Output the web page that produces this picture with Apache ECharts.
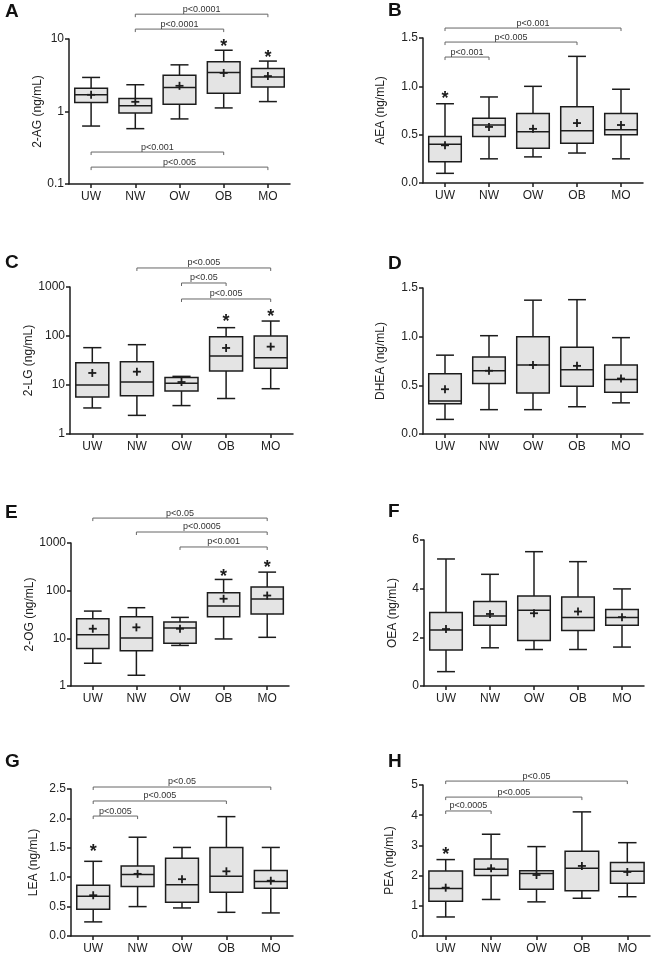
<!DOCTYPE html>
<html>
<head>
<meta charset="utf-8">
<script src="https://cdn.jsdelivr.net/npm/echarts@6/dist/echarts.min.js"></script>
<style>html,body{margin:0;padding:0;background:#fff}#main{width:652px;height:956px}</style>
</head>
<body>
<div id="main"></div>
<script>
var FONT = 'Liberation Sans, Arial, sans-serif';
var groups = ['UW', 'NW', 'OW', 'OB', 'MO'];

// box rows: [min, Q1, median, Q3, max] for UW..MO
var ag2Box = [[0.63, 1.33, 1.7, 2.1, 2.95], [0.58, 0.95, 1.2, 1.51, 2.34], [0.79, 1.26, 2.15, 3.15, 4.4], [1.12, 1.79, 3.46, 4.86, 7.0], [1.37, 2.17, 2.98, 3.93, 4.96]];
var ag2Mean = [1.7, 1.36, 2.26, 3.4, 3.08];
var aeaBox = [[0.10, 0.22, 0.40, 0.48, 0.82], [0.25, 0.48, 0.60, 0.67, 0.89], [0.27, 0.36, 0.53, 0.72, 1.0], [0.31, 0.41, 0.54, 0.79, 1.31], [0.25, 0.50, 0.55, 0.72, 0.97]];
var aeaMean = [0.39, 0.58, 0.56, 0.62, 0.60];
var lg2Box = [[3.4, 5.7, 10, 28.6, 57.8], [2.4, 6.0, 11.5, 29.9, 66.5], [3.8, 7.5, 10.8, 14.3, 15], [5.3, 19.3, 39, 97, 148], [8.4, 22, 36, 100, 202]];
var lg2Mean = [17.6, 18.7, 11.5, 57, 60.6];
var dheaBox = [[0.15, 0.31, 0.34, 0.62, 0.81], [0.25, 0.52, 0.65, 0.79, 1.01], [0.25, 0.42, 0.71, 1.0, 1.375], [0.28, 0.49, 0.66, 0.89, 1.38], [0.32, 0.43, 0.56, 0.71, 0.99]];
var dheaMean = [0.46, 0.65, 0.71, 0.70, 0.57];
var og2Box = [[3.0, 6.1, 11.9, 25.8, 37.3], [1.68, 5.5, 10.2, 28.4, 43.9], [7.1, 7.9, 16.4, 22, 27.5], [9.7, 28.4, 47.5, 90, 172], [10.5, 32.3, 66.5, 119, 245]];
var og2Mean = [15.9, 17, 15.9, 67.7, 79];
var oeaBox = [[0.59, 1.48, 2.3, 3.02, 5.22], [1.57, 2.5, 2.88, 3.47, 4.59], [1.5, 1.87, 3.11, 3.7, 5.52], [1.5, 2.28, 2.81, 3.66, 5.11], [1.6, 2.5, 2.81, 3.14, 3.99]];
var oeaMean = [2.34, 2.96, 2.99, 3.06, 2.83];
var leaBox = [[0.24, 0.455, 0.676, 0.864, 1.27], [0.5, 0.84, 1.045, 1.19, 1.68], [0.477, 0.574, 0.87, 1.324, 1.506], [0.403, 0.744, 1.017, 1.506, 2.03], [0.392, 0.813, 0.926, 1.114, 1.506]];
var leaMean = [0.693, 1.057, 0.966, 1.1, 0.94];
var peaBox = [[0.63, 1.15, 1.57, 2.15, 2.53], [1.21, 2.0, 2.21, 2.55, 3.37], [1.13, 1.55, 2.07, 2.16, 2.96], [1.25, 1.5, 2.24, 2.81, 4.11], [1.3, 1.75, 2.14, 2.43, 3.09]];
var peaMean = [1.6, 2.24, 2.02, 2.32, 2.12];

// significance brackets: [from group, to group, level, text]
var ag2Pairs = [[1, 4, 22, 'p<0.0001'], [1, 3, 13.7, 'p<0.0001'], [0, 3, 0.276, 'p<0.001'], [0, 4, 0.171, 'p<0.005']];
var aeaPairs = [[0, 4, 1.603, 'p<0.001'], [0, 3, 1.458, 'p<0.005'], [0, 1, 1.303, 'p<0.001']];
var lg2Pairs = [[1, 4, 2445, 'p<0.005'], [2, 3, 1207, 'p<0.05'], [2, 4, 569, 'p<0.005']];
var og2Pairs = [[0, 4, 3334, 'p<0.05'], [1, 4, 1700, 'p<0.0005'], [2, 4, 825, 'p<0.001']];
var leaPairs = [[0, 4, 2.534, 'p<0.05'], [0, 3, 2.296, 'p<0.005'], [0, 1, 2.04, 'p<0.005']];
var peaPairs = [[0, 4, 5.13, 'p<0.05'], [0, 3, 4.6, 'p<0.005'], [0, 1, 4.14, 'p<0.0005']];

// asterisks: [group, level]
var ag2Stars = [[3, 8.8], [4, 6.2]];
var aeaStars = [[0, 0.91]];
var lg2Stars = [[3, 233], [4, 294]];
var og2Stars = [[3, 236], [4, 364]];
var leaStars = [[0, 1.5]];
var peaStars = [[0, 2.81]];

var panels = [
  {letter: 'A', name: '2-AG (ng/mL)', box: ag2Box, mean: ag2Mean, pairs: ag2Pairs, stars: ag2Stars, log: true, min: 0.1, max: 10,
   grid: {left: 69, top: 39, width: 221, height: 145}, gap: 19, lt: [5, 2]},
  {letter: 'B', name: 'AEA (ng/mL)', box: aeaBox, mean: aeaMean, pairs: aeaPairs, stars: aeaStars, min: 0, max: 1.5, interval: 0.5, dec: 1,
   grid: {left: 423, top: 38, width: 220, height: 145}, gap: 36, lt: [388, 1]},
  {letter: 'C', name: '2-LG (ng/mL)', box: lg2Box, mean: lg2Mean, pairs: lg2Pairs, stars: lg2Stars, log: true, min: 1, max: 1000,
   grid: {left: 70, top: 287, width: 223, height: 147}, gap: 22, lt: [5, 253]},
  {letter: 'D', name: 'DHEA (ng/mL)', box: dheaBox, mean: dheaMean, pairs: [], stars: [], min: 0, max: 1.5, interval: 0.5, dec: 1,
   grid: {left: 423, top: 288, width: 220, height: 146}, gap: 36, lt: [388, 254]},
  {letter: 'E', name: '2-OG (ng/mL)', box: og2Box, mean: og2Mean, pairs: og2Pairs, stars: og2Stars, log: true, min: 1, max: 1000,
   grid: {left: 71, top: 543, width: 218, height: 143}, gap: 24, lt: [5, 503]},
  {letter: 'F', name: 'OEA (ng/mL)', box: oeaBox, mean: oeaMean, pairs: [], stars: [], min: 0, max: 6, interval: 2, dec: 0,
   grid: {left: 424, top: 540, width: 220, height: 146}, gap: 25, lt: [388, 502]},
  {letter: 'G', name: 'LEA (ng/mL)', box: leaBox, mean: leaMean, pairs: leaPairs, stars: leaStars, min: 0, max: 2.5, interval: 0.5, dec: 1,
   grid: {left: 71, top: 789, width: 222, height: 147}, gap: 31, lt: [5, 752]},
  {letter: 'H', name: 'PEA (ng/mL)', box: peaBox, mean: peaMean, pairs: peaPairs, stars: peaStars, min: 0, max: 5, interval: 1, dec: 0,
   grid: {left: 423, top: 785, width: 227, height: 151}, gap: 27, lt: [388, 752]}
];

var INK = '#1c1c1c';

function boxItem(box, mean) {
  return function (params, api) {
    var i = params.dataIndex;
    var b = box[i];
    var bw = api.size([1, 0])[0] * 0.74;
    var cw = bw * 0.55;
    var x = api.coord([i, b[0]])[0];
    var y = b.map(function (v) { return api.coord([i, v])[1]; });
    var ym = api.coord([i, mean[i]])[1];
    var ls = {stroke: INK, lineWidth: 1.5, fill: null};
    return {type: 'group', children: [
      {type: 'line', shape: {x1: x, y1: y[0], x2: x, y2: y[1]}, style: ls},
      {type: 'line', shape: {x1: x, y1: y[3], x2: x, y2: y[4]}, style: ls},
      {type: 'line', shape: {x1: x - cw / 2, y1: y[0], x2: x + cw / 2, y2: y[0]}, style: ls},
      {type: 'line', shape: {x1: x - cw / 2, y1: y[4], x2: x + cw / 2, y2: y[4]}, style: ls},
      {type: 'rect', shape: {x: x - bw / 2, y: y[3], width: bw, height: y[1] - y[3]}, style: {fill: '#e4e4e4', stroke: INK, lineWidth: 1.5}},
      {type: 'line', shape: {x1: x - bw / 2, y1: y[2], x2: x + bw / 2, y2: y[2]}, style: ls},
      {type: 'line', shape: {x1: x - 4, y1: ym, x2: x + 4, y2: ym}, style: {stroke: INK, lineWidth: 1.8}},
      {type: 'line', shape: {x1: x, y1: ym - 4, x2: x, y2: ym + 4}, style: {stroke: INK, lineWidth: 1.8}}
    ]};
  };
}

function pairItem(pairs) {
  return function (params, api) {
    var p = pairs[params.dataIndex];
    var a = api.coord([p[0], p[2]]);
    var b = api.coord([p[1], p[2]]);
    return {type: 'group', children: [
      {type: 'polyline', shape: {points: [[a[0], a[1] + 3], [a[0], a[1]], [b[0], b[1]], [b[0], b[1] + 3]]},
       style: {stroke: '#666', lineWidth: 1, fill: null}},
      {type: 'text', x: (a[0] + b[0]) / 2, y: a[1] - 0.5,
       style: {text: p[3], align: 'center', verticalAlign: 'bottom', fontSize: 9, fill: '#333', fontFamily: FONT}}
    ]};
  };
}

function starItem(stars) {
  return function (params, api) {
    var s = stars[params.dataIndex];
    var c = api.coord([s[0], s[1]]);
    return {type: 'text', x: c[0], y: c[1] + 4,
      style: {text: '*', align: 'center', verticalAlign: 'middle', fontSize: 18, fontWeight: 'bold', fill: INK, fontFamily: FONT}};
  };
}

var option = {
  animation: false,
  backgroundColor: '#fff',
  title: [], grid: [], xAxis: [], yAxis: [], series: []
};

panels.forEach(function (p, k) {
  option.title.push({text: p.letter, left: p.lt[0], top: p.lt[1], padding: 0,
    textStyle: {fontSize: 19, fontWeight: 'bold', color: '#111', fontFamily: FONT}});
  var g = p.grid;
  option.grid.push({left: g.left, top: g.top, width: g.width, height: g.height, containLabel: false, outerBoundsMode: 'none'});
  option.xAxis.push({
    type: 'category', gridIndex: k, data: groups,
    axisLine: {show: true, lineStyle: {color: INK, width: 1.5}},
    axisTick: {show: true, alignWithLabel: true, length: 4, lineStyle: {color: INK, width: 1.5}},
    axisLabel: {color: '#222', fontSize: 12, fontFamily: FONT, margin: 7},
    splitLine: {show: false}
  });
  var y = {
    gridIndex: k, min: p.min, max: p.max,
    name: p.name, nameLocation: 'middle', nameGap: p.gap,
    nameTextStyle: {color: '#222', fontSize: 12, fontFamily: FONT},
    axisLine: {show: true, lineStyle: {color: INK, width: 1.5}},
    axisTick: {show: true, length: 4, lineStyle: {color: INK, width: 1.5}},
    axisLabel: {color: '#222', fontSize: 12, fontFamily: FONT, margin: 5},
    splitLine: {show: false}
  };
  if (p.log) {
    y.type = 'log';
    y.logBase = 10;
    y.axisLabel.formatter = function (v) { return String(+(+v).toPrecision(3)); };
  } else {
    y.type = 'value';
    y.interval = p.interval;
    y.axisLabel.formatter = (function (d) { return function (v) { return v.toFixed(d); }; })(p.dec);
  }
  option.yAxis.push(y);

  option.series.push({
    type: 'custom', xAxisIndex: k, yAxisIndex: k,
    data: p.box.map(function (b, i) { return [i, b[0], b[4]]; }),
    encode: {x: 0, y: [1, 2]},
    renderItem: boxItem(p.box, p.mean), z: 2
  });
  if (p.pairs.length) {
    option.series.push({
      type: 'custom', xAxisIndex: k, yAxisIndex: k, clip: false,
      data: p.pairs.map(function (q) { return [q[0], q[2]]; }),
      encode: {x: 0, y: 1},
      renderItem: pairItem(p.pairs), z: 3
    });
  }
  if (p.stars.length) {
    option.series.push({
      type: 'custom', xAxisIndex: k, yAxisIndex: k, clip: false,
      data: p.stars.map(function (s) { return [s[0], s[1]]; }),
      encode: {x: 0, y: 1},
      renderItem: starItem(p.stars), z: 3
    });
  }
});

var chart = echarts.init(document.getElementById('main'), null, {renderer: 'canvas'});
chart.setOption(option);
</script>
</body>
</html>
